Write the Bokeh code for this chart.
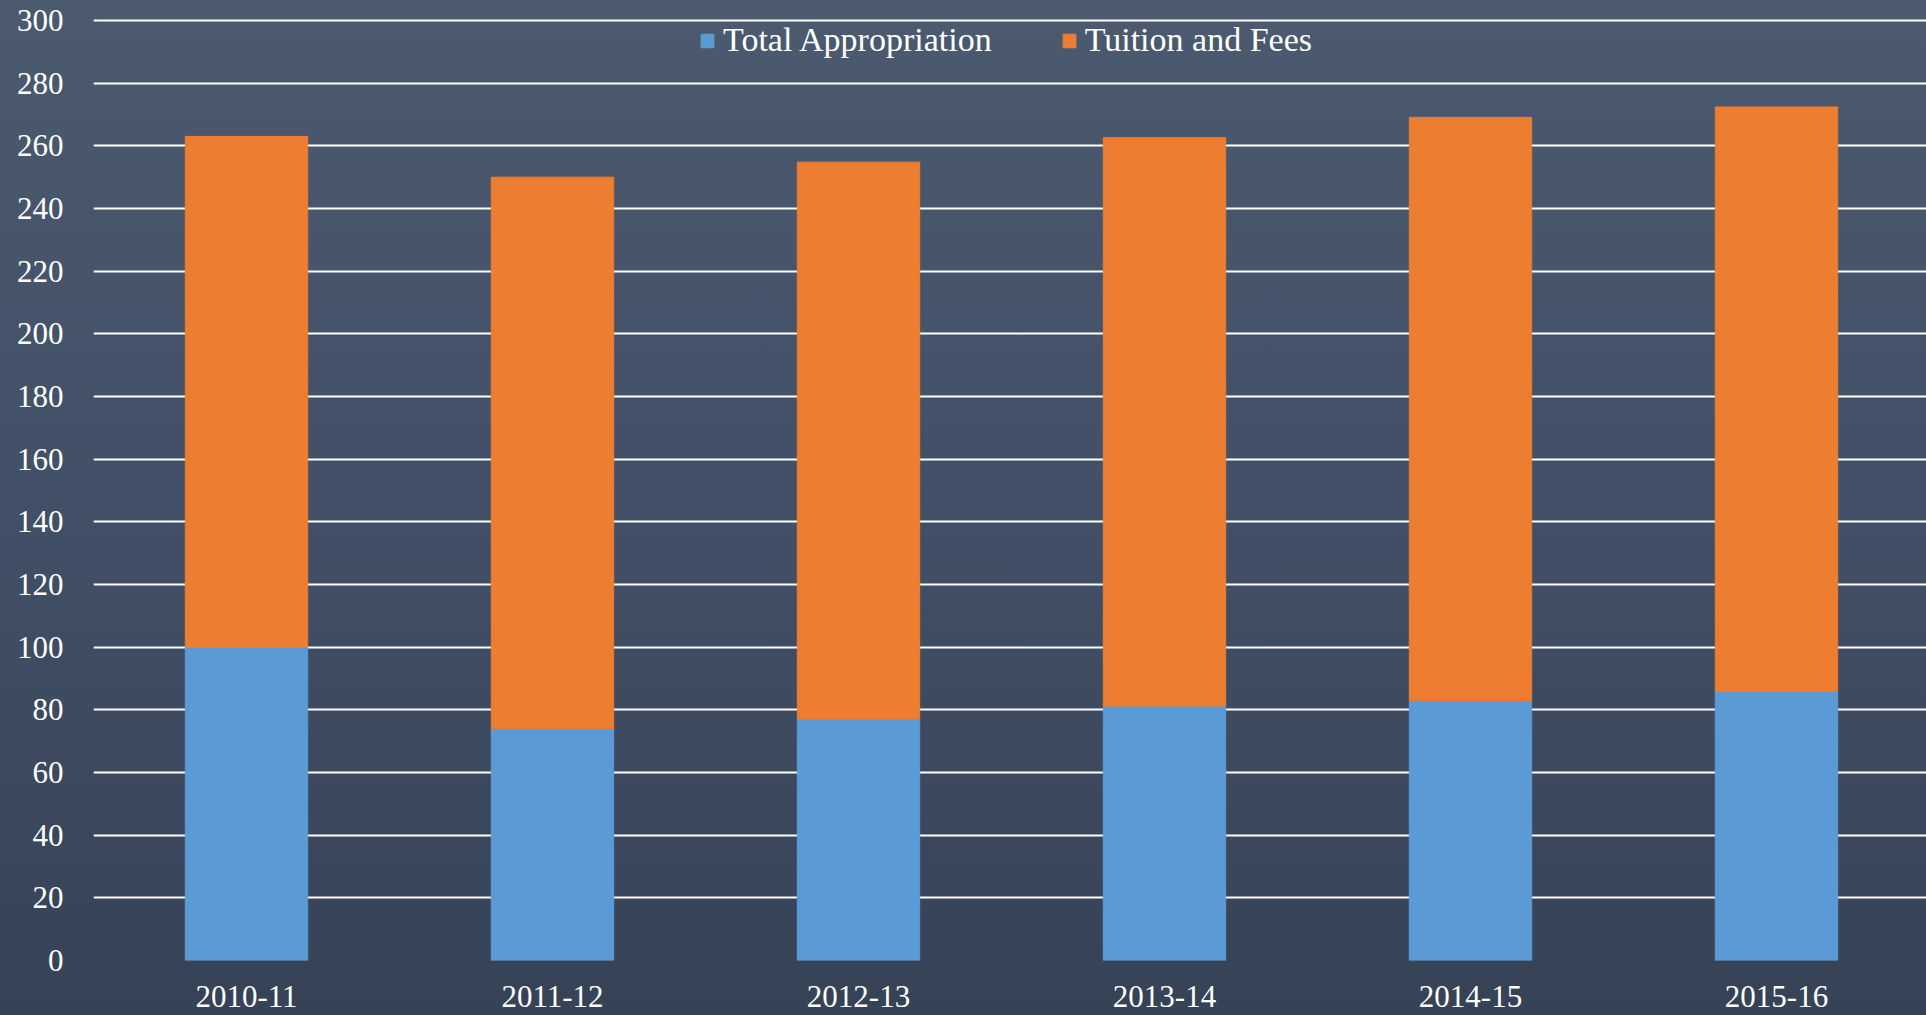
from bokeh.plotting import figure
from bokeh.models import ColumnDataSource, Range1d, FixedTicker, GlobalInlineStyleSheet
from bokeh.embed import file_html
from bokeh.resources import INLINE

# ---- data ----
years = ["2010-11", "2011-12", "2012-13", "2013-14", "2014-15", "2015-16"]
total_appropriation = [100.0, 74.0, 77.2, 81.2, 83.0, 85.9]
tuition_and_fees = [163.0, 176.0, 177.6, 181.4, 186.1, 186.5]
y_ticks = list(range(0, 301, 20))
series_names = ["Total Appropriation", "Tuition and Fees"]
series_colors = ["#5b9bd5", "#ed7d31"]

FONT = "Liberation Serif"

x_pos = [i + 0.5 for i in range(len(years))]
source = ColumnDataSource(dict(
    x=x_pos,
    appropriation=total_appropriation,
    tuition=tuition_and_fees,
))

css = GlobalInlineStyleSheet(css="""
html { min-height: 100%; background: linear-gradient(to bottom, #4b5a6f 0%, #425067 50%, #364256 100%) fixed; }
body { background: transparent; }
""")

W, H = 1926, 1015
LEFT, TOP, BOTTOM = 93, 14, 55
FRAME_W = W - LEFT
FRAME_H = H - TOP - BOTTOM
PX_PER_UNIT = 940 / 300.0
PX_PER_CAT = 306.0

p = figure(
    width=W, height=H,
    frame_width=FRAME_W, frame_height=FRAME_H,
    min_border_left=LEFT, min_border_right=0, min_border_top=TOP, min_border_bottom=BOTTOM,
    x_range=Range1d(0, FRAME_W / PX_PER_CAT), y_range=Range1d(0, FRAME_H / PX_PER_UNIT),
    output_backend="svg", toolbar_location=None,
    background_fill_alpha=0, border_fill_alpha=0, outline_line_color=None,
)
p.stylesheets = [css]

p.vbar_stack(["appropriation", "tuition"], x="x", width=0.4, source=source,
             color=series_colors, legend_label=series_names)

# grid
p.xgrid.grid_line_color = None
p.ygrid.ticker = FixedTicker(ticks=y_ticks)
p.ygrid.grid_line_color = "white"
p.ygrid.grid_line_width = 2

# axes
p.yaxis.ticker = FixedTicker(ticks=y_ticks)
p.xaxis.ticker = FixedTicker(ticks=x_pos)
p.xaxis.major_label_overrides = {x: lab for x, lab in zip(x_pos, years)}
for ax in (p.xaxis, p.yaxis):
    ax.axis_line_color = None
    ax.major_tick_line_color = None
    ax.minor_tick_line_color = None
    ax.major_tick_in = 0
    ax.major_tick_out = 0
    ax.major_label_text_font = FONT
    ax.major_label_text_font_size = "31px"
    ax.major_label_text_color = "white"
p.yaxis.major_label_standoff = 30
p.xaxis.major_label_standoff = 25

# legend
lg = p.legend[0]
lg.orientation = "horizontal"
lg.location = (606, 901)
lg.background_fill_alpha = 0
lg.border_line_color = None
lg.padding = 0
lg.margin = 0
lg.spacing = 69
lg.glyph_width = 16
lg.glyph_height = 17
lg.label_standoff = 8
lg.label_text_font = FONT
lg.label_text_font_size = "34px"
lg.label_text_color = "white"

open("out.html", "w").write(file_html(p, INLINE))
